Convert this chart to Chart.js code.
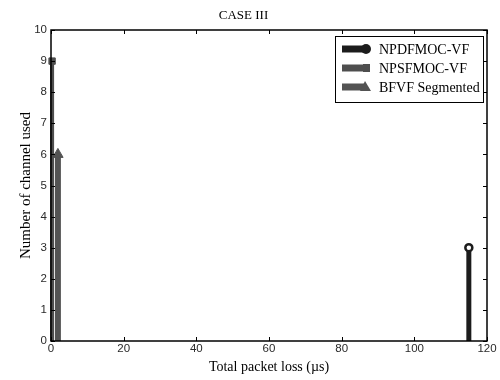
<!DOCTYPE html>
<html>
<head>
<meta charset="utf-8">
<script src="https://cdn.jsdelivr.net/npm/chart.js@4"></script>
<style>
  html, body { margin: 0; padding: 0; background: #fff; }
  #wrap { width: 500px; height: 380px; }
</style>
</head>
<body>
<div id="wrap"><canvas id="chart" width="500" height="380"></canvas></div>
<script>
// DATA
const seriesNames = ['NPDFMOC-VF', 'NPSFMOC-VF', 'BFVF Segmented'];
const packetLoss = [115, 0.3, 1.9];
const channelsUsed = [3, 9, 6];
const xTicks = [0, 20, 40, 60, 80, 100, 120];
const yTicks = [0, 1, 2, 3, 4, 5, 6, 7, 8, 9, 10];

const colors = ['#1c1c1c', '#4e4e4e', '#535353'];
const markers = ['circle', 'rect', 'triangle'];
const stemWidths = [5, 4, 6];

const serif = '"Liberation Serif", "DejaVu Serif", serif';
const sans = '"Liberation Sans", Arial, sans-serif';

// one stem per series: from the axis up to the value
const datasets = seriesNames.map((name, i) => ({
    label: name,
    data: [{ x: packetLoss[i], y: 0 }, { x: packetLoss[i], y: channelsUsed[i] }],
    borderColor: colors[i],
    backgroundColor: i === 0 ? '#ffffff' : colors[i],
    borderWidth: stemWidths[i],
    borderCapStyle: 'butt',
    pointStyle: markers[i],
    pointRadius: [0, i === 2 ? 6 : (i === 1 ? 4.5 : 3.5)],
    pointBorderWidth: i === 0 ? 2.5 : 1,
    pointBorderColor: colors[i],
    clip: false
}));

// box + inward ticks like the original figure
const frame = {
    id: 'frame',
    afterDraw(chart) {
        const { ctx, chartArea: a, scales } = chart;
        ctx.save();
        ctx.strokeStyle = '#000';
        ctx.lineWidth = 1;
        ctx.beginPath();
        xTicks.forEach(v => {
            const px = Math.round(scales.x.getPixelForValue(v)) + 0.5;
            ctx.moveTo(px, a.bottom); ctx.lineTo(px, a.bottom - 4);
            ctx.moveTo(px, a.top); ctx.lineTo(px, a.top + 4);
        });
        yTicks.forEach(v => {
            const py = Math.round(scales.y.getPixelForValue(v)) + 0.5;
            ctx.moveTo(a.left, py); ctx.lineTo(a.left + 4, py);
            ctx.moveTo(a.right, py); ctx.lineTo(a.right - 4, py);
        });
        ctx.stroke();
        ctx.lineWidth = 1.5;
        ctx.strokeRect(a.left, a.top, a.right - a.left, a.bottom - a.top);
        ctx.restore();
    }
};

// legend box in the top right corner
const stemLegend = {
    id: 'stemLegend',
    afterDraw(chart) {
        const { ctx, chartArea: a } = chart;
        const x0 = a.right - 152, y0 = a.top + 6, w = 148, h = 66;
        ctx.save();
        ctx.fillStyle = '#fff';
        ctx.fillRect(x0, y0, w, h);
        ctx.strokeStyle = '#000';
        ctx.lineWidth = 1;
        ctx.strokeRect(x0 + 0.5, y0 + 0.5, w, h);
        ctx.font = '14px ' + serif;
        ctx.textBaseline = 'middle';
        chart.data.datasets.forEach((ds, i) => {
            const y = y0 + 13 + i * 19;
            ctx.strokeStyle = ds.borderColor;
            ctx.lineWidth = 7;
            ctx.beginPath();
            ctx.moveTo(x0 + 7, y); ctx.lineTo(x0 + 30, y);
            ctx.stroke();
            ctx.fillStyle = ds.borderColor;
            ctx.beginPath();
            if (i === 0) {
                ctx.arc(x0 + 31, y, 5, 0, Math.PI * 2);
            } else if (i === 1) {
                ctx.rect(x0 + 28, y - 4, 7, 8);
            } else {
                ctx.moveTo(x0 + 25, y + 4); ctx.lineTo(x0 + 30, y - 6); ctx.lineTo(x0 + 36, y + 4);
                ctx.closePath();
            }
            ctx.fill();
            ctx.fillStyle = '#000';
            ctx.fillText(ds.label, x0 + 44, y + 1);
        });
        ctx.restore();
    }
};

new Chart(document.getElementById('chart'), {
    type: 'line',
    data: { datasets },
    plugins: [frame, stemLegend],
    options: {
        responsive: false,
        animation: false,
        layout: { padding: { left: 0, right: 13, top: 0, bottom: 0 } },
        plugins: {
            legend: { display: false },
            tooltip: { enabled: false },
            title: {
                display: true,
                text: 'CASE III',
                color: '#000',
                font: { family: serif, size: 13, weight: 'normal' },
                padding: { top: 8, bottom: 6.4 }
            }
        },
        scales: {
            x: {
                type: 'linear',
                min: 0, max: 120,
                afterBuildTicks: s => { s.ticks = xTicks.map(v => ({ value: v })); },
                ticks: { color: '#2a2a2a', font: { family: sans, size: 11.5 }, padding: 1, maxRotation: 0 },
                grid: { display: false, drawTicks: false },
                border: { display: false },
                title: {
                    display: true,
                    text: 'Total packet loss (\u00b5s)',
                    color: '#000',
                    font: { family: serif, size: 14 },
                    padding: { top: 0, bottom: 4.5 }
                },
                afterFit: s => { s.height = 39; }
            },
            y: {
                min: 0, max: 10,
                afterBuildTicks: s => { s.ticks = yTicks.map(v => ({ value: v })); },
                ticks: { color: '#2a2a2a', font: { family: sans, size: 11.5 }, padding: 4 },
                grid: { display: false, drawTicks: false },
                border: { display: false },
                title: {
                    display: true,
                    text: 'Number of channel used',
                    color: '#000',
                    font: { family: serif, size: 15 },
                    padding: { top: 17, bottom: 0 }
                },
                afterFit: s => { s.width = 51; }
            }
        }
    }
});
</script>
</body>
</html>
